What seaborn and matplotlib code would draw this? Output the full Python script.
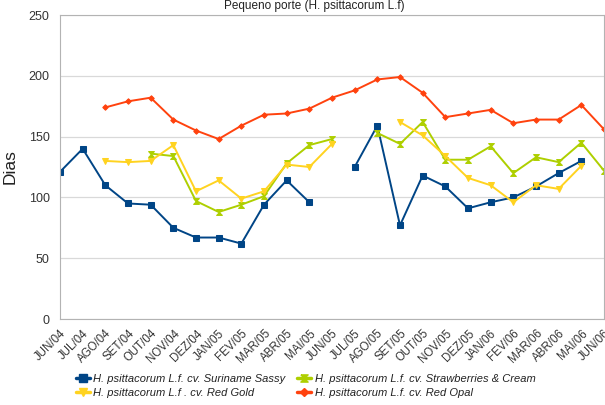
import numpy as np
import pandas as pd
import matplotlib.pyplot as plt
from matplotlib.lines import Line2D
import seaborn as sns

meses = ['JUN/04', 'JUL/04', 'AGO/04', 'SET/04', 'OUT/04', 'NOV/04', 'DEZ/04', 'JAN/05', 'FEV/05',
         'MAR/05', 'ABR/05', 'MAI/05', 'JUN/05', 'JUL/05', 'AGO/05', 'SET/05', 'OUT/05', 'NOV/05',
         'DEZ/05', 'JAN/06', 'FEV/06', 'MAR/06', 'ABR/06', 'MAI/06', 'JUN/06']
nan = np.nan
suriname_sassy = [121, 140, 110, 95, 94, 75, 67, 67, 62, 94, 114, 96, nan,
                  125, 159, 77, 118, 109, 91, 96, 100, 109, 120, 130, nan]
strawberries = [nan, nan, nan, nan, 136, 134, 97, 88, 94, 101, 128, 143, 148,
                nan, 153, 144, 162, 131, 131, 142, 120, 133, 129, 145, 122]
red_gold = [nan, nan, 130, 129, 130, 143, 105, 114, 99, 105, 127, 125, 144,
            nan, nan, 162, 151, 134, 116, 110, 96, 110, 107, 126, nan]
red_opal = [nan, nan, 174, 179, 182, 164, 155, 148, 159, 168, 169, 173, 182,
            188, 197, 199, 186, 166, 169, 172, 161, 164, 164, 176, 156]

series = {
    'H. psittacorum L.f. cv. Suriname Sassy': suriname_sassy,
    'H. psittacorum L.f. cv. Strawberries & Cream': strawberries,
    'H. psittacorum L.f . cv. Red Gold': red_gold,
    'H. psittacorum L.f. cv. Red Opal': red_opal,
}
cores = ['#004586', '#aecf00', '#ffd320', '#ff420e']
ampulheta = [(-1, 1), (1, 1), (-1, -1), (1, -1), (-1, 1)]
marcadores = ['s', ampulheta, 'v', 'D']
tamanhos = [4.2, 4.2, 4.5, 2.8]

# long table, one "seg" per unbroken run so gaps stay open
rows = []
for nome, vals in series.items():
    seg = 0
    for i, v in enumerate(vals):
        if np.isnan(v):
            seg += 1
            continue
        rows.append({'serie': nome, 'x': i, 'dias': v, 'seg': seg})
df = pd.DataFrame(rows)

sns.set_style('white')
plt.rcParams['font.family'] = ['Liberation Sans', 'DejaVu Sans']

fig = plt.figure(figsize=(6.05, 4.05), dpi=100)
ax = fig.add_axes([60 / 605, 1 - 319 / 405, 544 / 605, 304 / 405])

for (nome, vals), c, m, ms in zip(series.items(), cores, marcadores, tamanhos):
    sub = df[df['serie'] == nome]
    sns.lineplot(data=sub, x='x', y='dias', units='seg', estimator=None, color=c,
                 marker=m, markersize=ms, markeredgecolor=c, linewidth=1.4, ax=ax, legend=False)

ax.set_xlim(0, len(meses) - 1)
ax.set_ylim(0, 250)
ax.set_yticks([0, 50, 100, 150, 200, 250])
ax.set_xticks(range(len(meses)))
ax.set_xticklabels(meses, rotation=45, ha='right', rotation_mode='anchor', fontsize=8.3, color='#333333')
ax.tick_params(axis='y', labelsize=9, labelcolor='#333333', length=4, color='#b3b3b3', width=0.8)
ax.tick_params(axis='x', length=4, color='#b3b3b3', width=0.8, pad=2)
ax.grid(axis='y', color='#d9d9d9', linewidth=0.9)
for s in ax.spines.values():
    s.set_color('#b3b3b3')
    s.set_linewidth(0.8)
ax.set_xlabel('')
ax.set_ylabel('Dias', fontsize=12.5, color='#222222', labelpad=8)

fig.text(0.519, 1 - 6 / 405, 'Pequeno porte (H. psittacorum L.f)', ha='center', va='center',
         fontsize=8.5, color='#222222')

handles = [Line2D([], [], color=c, marker=m, markersize=ms + 1, markeredgecolor=c, linewidth=2.5)
           for c, m, ms in zip(cores, marcadores, tamanhos)]
nomes = list(series.keys())
ordem = [0, 2, 1, 3]
fig.legend([handles[i] for i in ordem], [nomes[i] for i in ordem], ncol=2, loc='center',
           bbox_to_anchor=(0.505, 1 - 386 / 405), frameon=False, prop={'style': 'italic', 'size': 8},
           handlelength=1.3, handletextpad=0.3, columnspacing=1.0, labelspacing=0.35, labelcolor='#222222')

plt.savefig('out.png', dpi=100)
